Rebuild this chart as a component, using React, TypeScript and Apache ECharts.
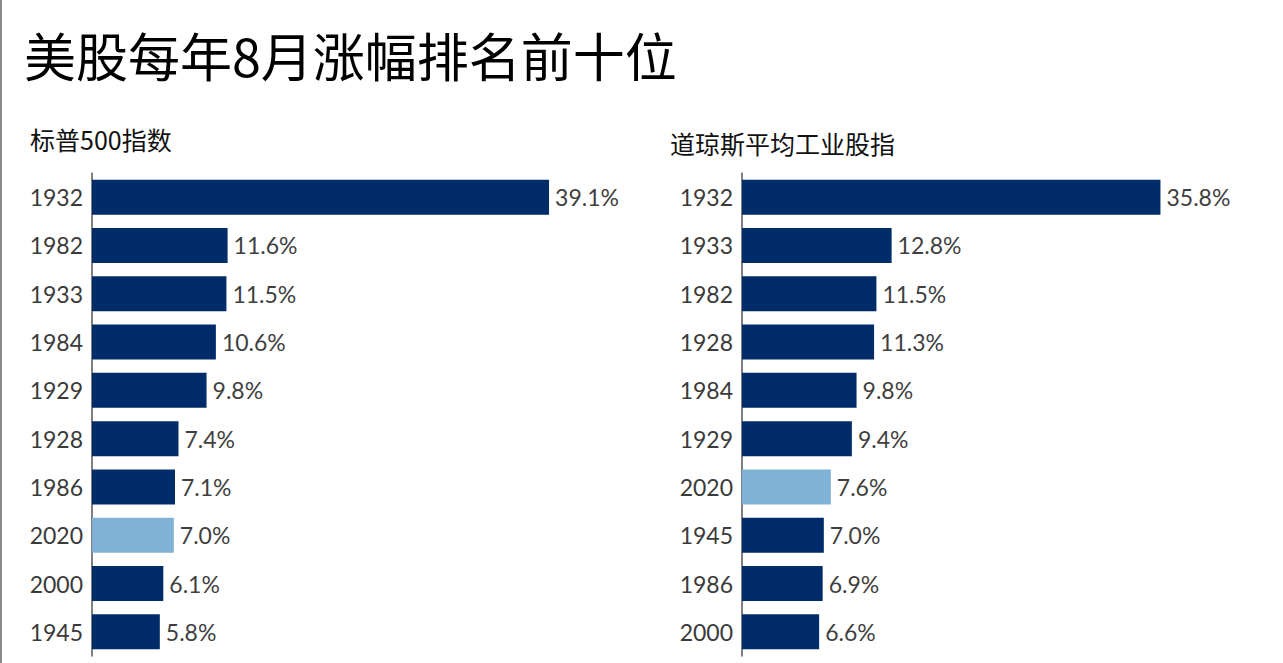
import React, { useEffect, useRef } from "react";
import * as echarts from "echarts";

const titleText = "美股每年8月涨幅排名前十位";
const spTitle = "标普500指数";
const djTitle = "道琼斯平均工业股指";

const spYears = ["1932", "1982", "1933", "1984", "1929", "1928", "1986", "2020", "2000", "1945"];
const spValues = [39.1, 11.6, 11.5, 10.6, 9.8, 7.4, 7.1, 7.0, 6.1, 5.8];

const djYears = ["1932", "1933", "1982", "1928", "1984", "1929", "2020", "1945", "1986", "2000"];
const djValues = [35.8, 12.8, 11.5, 11.3, 9.8, 9.4, 7.6, 7.0, 6.9, 6.6];

const highlightYear = "2020";

const DARK = "#002d69";
const LIGHT = "#80b1d6";
const NUM_FONT = "Lato, 'Noto Sans CJK SC', sans-serif";
const CJK_FONT = "'Noto Sans CJK SC', sans-serif";

export default function App() {
  const ref = useRef<HTMLDivElement>(null);
  useEffect(() => {
    if (!ref.current) return;
    const chart = echarts.init(ref.current, null, { renderer: "svg" });
    const mkData = (years: string[], vals: number[]) =>
      vals.map((v, i) => ({
        value: v,
        itemStyle: { color: years[i] === highlightYear ? LIGHT : DARK },
      }));
    const yAxisCommon = {
      type: "category" as const,
      inverse: true,
      axisLine: { show: true, lineStyle: { color: "#555", width: 1.5 } },
      axisTick: { show: false },
      axisLabel: { margin: 9, fontSize: 23, color: "#3a3a3a", fontFamily: NUM_FONT },
    };
    const xAxisCommon = {
      type: "value" as const,
      min: 0,
      max: 45,
      show: false,
      splitLine: { show: false },
    };
    const labelCommon = {
      show: true,
      position: "right" as const,
      distance: 6,
      fontSize: 23,
      color: "#3f3f3f",
      fontFamily: NUM_FONT,
      formatter: (p: any) => Number(p.value).toFixed(1) + "%",
    };
    chart.setOption({
      animation: false,
      backgroundColor: "#ffffff",
      grid: [
        { left: 92, top: 173, width: 526, height: 483 },
        { left: 742, top: 173, width: 526, height: 483 },
      ],
      xAxis: [
        { ...xAxisCommon, gridIndex: 0 },
        { ...xAxisCommon, gridIndex: 1 },
      ],
      yAxis: [
        { ...yAxisCommon, gridIndex: 0, data: spYears },
        { ...yAxisCommon, gridIndex: 1, data: djYears },
      ],
      series: [
        {
          type: "bar",
          xAxisIndex: 0,
          yAxisIndex: 0,
          data: mkData(spYears, spValues),
          barWidth: 35,
          label: labelCommon,
        },
        {
          type: "bar",
          xAxisIndex: 1,
          yAxisIndex: 1,
          data: mkData(djYears, djValues),
          barWidth: 35,
          label: labelCommon,
        },
      ],
      graphic: [
        { type: "rect", left: 0, top: 0, shape: { width: 2, height: 663 }, style: { fill: "#8a8a8a" } },
        {
          type: "text",
          x: 24,
          y: 54,
          style: {
            text: titleText,
            fontSize: 52,
            fontFamily: CJK_FONT,
            fill: "#000",
            textVerticalAlign: "middle",
          },
        },
        {
          type: "text",
          x: 30,
          y: 139,
          style: {
            text: spTitle,
            fontSize: 25,
            fontFamily: CJK_FONT,
            fill: "#111",
            textVerticalAlign: "middle",
          },
        },
        {
          type: "text",
          x: 670,
          y: 143,
          style: {
            text: djTitle,
            fontSize: 25,
            fontFamily: CJK_FONT,
            fill: "#111",
            textVerticalAlign: "middle",
          },
        },
      ],
    });
    return () => chart.dispose();
  }, []);
  return (
    <div
      ref={ref}
      style={{ position: "fixed", left: 0, top: 0, width: 1283, height: 663 }}
    />
  );
}
